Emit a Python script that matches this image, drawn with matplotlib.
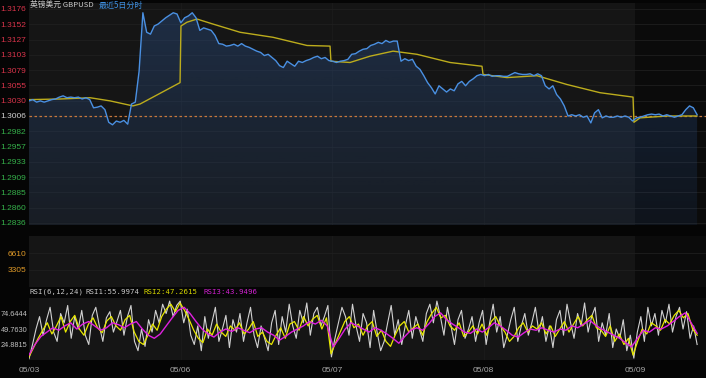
import numpy as np
import matplotlib
matplotlib.use('Agg')
from matplotlib import pyplot as plt
from matplotlib.patches import Polygon

# ---- data ----
day_labels = ['05/03', '05/06', '05/07', '05/08', '05/09']
t_end = 4.41  # last tick, in days from 05/03 open

price = [
    1.3030, 1.3032, 1.3028, 1.3030, 1.3028, 1.3030, 1.3032, 1.3033, 1.3036, 1.3038,
    1.3035, 1.3036, 1.3035, 1.3036, 1.3033, 1.3035, 1.3032,
    1.3019, 1.3020, 1.3022, 1.3016, 1.2996, 1.2992, 1.2998, 1.2996, 1.2999, 1.2993,
    1.3025, 1.3028, 1.3077, 1.3170,
    1.3139, 1.3136, 1.3149, 1.3152, 1.3157, 1.3162, 1.3166, 1.3170, 1.3168, 1.3154,
    1.3162, 1.3165, 1.3170, 1.3162, 1.3142, 1.3146, 1.3144, 1.3142, 1.3134, 1.3121,
    1.3120, 1.3117, 1.3118, 1.3120, 1.3117, 1.3121, 1.3117, 1.3115, 1.3112, 1.3109,
    1.3107, 1.3102, 1.3104, 1.3099, 1.3094, 1.3086, 1.3083, 1.3093, 1.3089, 1.3085,
    1.3093, 1.3091, 1.3094, 1.3096, 1.3099, 1.3101, 1.3097, 1.3099, 1.3094, 1.3093,
    1.3091, 1.3093, 1.3094, 1.3096, 1.3104, 1.3105, 1.3109, 1.3112, 1.3113, 1.3118,
    1.3120, 1.3123, 1.3121, 1.3126, 1.3123, 1.3125, 1.3125, 1.3093, 1.3097, 1.3094,
    1.3096, 1.3085, 1.3080, 1.3070, 1.3059, 1.3051, 1.3041, 1.3054, 1.3049, 1.3044,
    1.3049, 1.3046, 1.3057, 1.3061, 1.3054, 1.3061, 1.3065, 1.3070, 1.3072, 1.3070,
    1.3072, 1.3069, 1.3070, 1.3070, 1.3069, 1.3069, 1.3072, 1.3075, 1.3073, 1.3072,
    1.3072, 1.3073, 1.3070, 1.3073, 1.3070, 1.3054, 1.3049, 1.3054, 1.3040, 1.3033,
    1.3022, 1.3006, 1.3008, 1.3006, 1.3008, 1.3004, 1.3006, 1.2995, 1.3011, 1.3016,
    1.3003, 1.3006, 1.3004, 1.3004, 1.3006, 1.3004, 1.3006, 1.3004, 1.2998, 1.3003,
    1.3004, 1.3006, 1.3008, 1.3009, 1.3008, 1.3009, 1.3006, 1.3008, 1.3006, 1.3004,
    1.3006, 1.3008, 1.3016, 1.3022, 1.3019, 1.3008,
]

avg_t = [0.0, 0.205, 0.403, 0.535, 0.686, 0.733, 0.997, 1.003, 1.043, 1.109, 1.215,
         1.393, 1.611, 1.835, 1.987, 1.993, 2.119, 2.251, 2.403, 2.561, 2.779, 2.990,
         2.997, 3.155, 3.353, 3.551, 3.769, 3.987, 3.993, 4.033, 4.211, 4.409]
avg_p = [1.3032, 1.3033, 1.3035, 1.3030, 1.3022, 1.3025, 1.3059, 1.3149, 1.3155, 1.3160,
         1.3152, 1.3139, 1.3131, 1.3118, 1.3117, 1.3093, 1.3091, 1.3101, 1.3109, 1.3104,
         1.3091, 1.3085, 1.3072, 1.3067, 1.3070, 1.3056, 1.3043, 1.3036, 1.2996, 1.3003,
         1.3006, 1.3006]

prev_close = 1.3006
price_ticks = ['1.3176', '1.3152', '1.3127', '1.3103', '1.3079', '1.3055', '1.3030', '1.3006',
               '1.2982', '1.2957', '1.2933', '1.2909', '1.2885', '1.2860', '1.2836']
vol_ticks = [3305, 6610]
rsi_ticks = ['24.8815', '49.7630', '74.6444']
rsi_header = ['RSI(6,12,24)', 'RSI1:55.9974', 'RSI2:47.2615', 'RSI3:43.9496']

rsi1 = [2, 25, 50, 70, 40, 65, 85, 45, 30, 75, 60, 88, 35, 70, 50, 80, 40, 25, 72, 85, 55, 30, 68, 78, 45, 62,
        80, 40, 70, 88, 30, 15, 50, 22, 65, 45, 80, 60, 90, 75, 95, 70, 88,
        95, 60, 82, 40, 25, 55, 15, 70, 35, 60, 85, 30, 50, 72, 20, 65, 45,
        75, 30, 60, 85, 40, 20, 55, 35, 15, 60, 80, 25, 70, 45, 90, 55, 35, 80, 60, 92, 40, 75, 85, 55, 70, 88,
        5, 35, 60, 85, 70, 40, 90, 55, 30, 75, 60, 20, 80, 45, 15, 30, 60, 88, 40, 65, 25, 55, 80, 35, 70, 50,
        30, 75, 90, 60, 95, 70, 40, 85, 55, 25, 65, 80, 35, 50, 70, 30, 60,
        80, 25, 60, 90, 45, 70, 20, 40, 65, 85, 30, 55, 75, 40, 60, 85, 45,
        70, 30, 55, 20, 65, 80, 40, 90, 60, 35, 75, 55, 92, 45, 70, 85, 30, 60, 40, 75, 20, 50, 35, 65, 15, 40,
        3, 45, 70, 30, 85, 55, 75, 40, 80, 60, 90, 45, 70, 85, 50, 78, 35, 55, 25]
rsi2 = [5, 20, 35, 48, 60, 42, 55, 70, 45, 62, 72, 50, 40, 58, 68, 52, 44, 63, 70, 55,
        48, 65, 72, 45, 30, 25, 40, 58, 48, 70, 82, 90, 78,
        92, 80, 65, 48, 35, 28, 50, 40, 58, 45, 38, 55, 48,
        60, 42, 50, 62, 38, 45, 30, 25, 40, 52, 35, 58, 62, 48, 70, 55, 66, 72, 50, 68,
        10, 28, 45, 62, 70, 52, 58, 40, 55, 62, 38, 48, 30, 22, 40, 55, 62, 45, 52, 58,
        40, 62, 75, 85, 68, 72, 55, 48, 60, 38, 45, 55, 42,
        58, 40, 62, 70, 55, 45, 30, 38, 52, 60, 45, 55, 50,
        60, 42, 55, 38, 50, 62, 45, 58, 70, 55, 65, 72, 52, 48, 38, 55, 30, 42, 25, 35,
        8, 30, 50, 42, 60, 55, 48, 65, 58, 72, 80, 68, 75, 50, 40]
rsi3 = [8, 25, 38, 45, 52, 48, 55, 60, 50, 58, 62, 55, 48, 52, 60, 57,
        52, 58, 62, 50, 40, 35, 42, 55, 68, 80,
        85, 75, 62, 50, 42, 37, 45, 50, 46, 52,
        48, 44, 50, 52, 45, 40, 32, 38, 45, 50, 55, 62, 58, 64, 55,
        21, 35, 50, 60, 55, 50, 45, 52, 48, 42, 35, 27, 38, 48, 52,
        48, 58, 70, 76, 65, 58, 52, 45, 43, 50,
        45, 52, 60, 55, 48, 40, 37, 44, 50, 48,
        52, 48, 45, 50, 48, 55, 52, 58, 64, 56, 50, 45, 40, 35, 28,
        21, 35, 48, 45, 52, 50, 55, 62, 70, 76, 60, 43]

# ---- layout helpers ----
W, H = 706, 378
x_max = (706 - 29) / 151.5


def box(x0, y0, x1, y1):
    return [x0 / W, 1 - y1 / H, (x1 - x0) / W, (y1 - y0) / H]


num_font = 'Liberation Sans'
cjk_font = ['Noto Sans CJK SC', 'DejaVu Sans']

fig = plt.figure(figsize=(7.06, 3.78), dpi=100, facecolor='#050505')
ax = fig.add_axes(box(29, 3, 706, 225))
axv = fig.add_axes(box(29, 236, 706, 287))
axr = fig.add_axes(box(29, 298, 706, 360))

for a in (ax, axv, axr):
    a.set_facecolor('#0b0b0b')
    a.axvspan(0, 4, color='#151515', lw=0, zorder=0)
    for s in a.spines.values():
        s.set_visible(False)
    a.tick_params(length=0, pad=2)
    a.set_xlim(0, x_max)
    for d in range(1, 4):
        a.axvline(d, color='#1c1c1c', lw=0.6, zorder=0.5)

# ---- price panel ----
t = np.linspace(0, t_end, len(price))
ylo, yhi = 1.28328, 1.31855
tick_vals = [float(s) for s in price_ticks]
for v in tick_vals:
    ax.axhline(v, color='#1f1f1f', lw=0.6, zorder=0.5)

verts = np.column_stack([np.r_[t[0], t, t[-1]], np.r_[ylo, price, ylo]])
poly = Polygon(verts, closed=True, facecolor='none', edgecolor='none')
ax.add_patch(poly)
grad = np.zeros((100, 1, 4))
grad[..., 0] = 0.2
grad[..., 1] = 0.4
grad[..., 2] = 0.7
grad[:, 0, 3] = np.linspace(0.3, 0.1, 100)
im = ax.imshow(grad, aspect='auto', extent=[0, t_end, ylo, max(price)], origin='upper', zorder=1)
im.set_clip_path(poly)

ax.axhline(prev_close, color='#c8783c', lw=0.9, ls=(0, (2, 2)), zorder=2)
ax.plot(avg_t, avg_p, color='#bcac1c', lw=1.0, zorder=3)
ax.plot(t, price, color='#4a90e2', lw=1.0, zorder=4)
ax.set_ylim(ylo, yhi)
ax.set_xlim(0, x_max)
ax.set_xticks([])
ax.set_yticks(tick_vals)
ax.set_yticklabels(price_ticks, fontsize=6, family=num_font)
for lab, v in zip(ax.get_yticklabels(), tick_vals):
    if v > prev_close + 1e-6:
        lab.set_color('#d8344a')
    elif v < prev_close - 1e-6:
        lab.set_color('#35b04a')
    else:
        lab.set_color('#d0d0d0')

fig.text(30 / W, 1 - 5 / H, '英镑美元 GBPUSD', color='#c8c8c8', fontsize=5.6,
         family=cjk_font, va='center', ha='left')
fig.text(99 / W, 1 - 5 / H, '最近5日分时', color='#3d8fe0', fontsize=5.8,
         family=cjk_font, va='center', ha='left')

# ---- volume panel (empty) ----
axv.set_ylim(0, 9915)
for v in vol_ticks:
    axv.axhline(v, color='#1f1f1f', lw=0.6, zorder=0.5)
axv.set_xticks([])
axv.set_yticks(vol_ticks)
axv.set_yticklabels([str(v) for v in vol_ticks], fontsize=6, family=num_font, color='#e09a28')

# ---- RSI panel ----
axr.plot(np.linspace(0, t_end, len(rsi1)), rsi1, color='#e6e6e6', lw=0.8, alpha=0.9, zorder=2)
axr.plot(np.linspace(0, t_end, len(rsi2)), rsi2, color='#e8e800', lw=0.9, zorder=3)
axr.plot(np.linspace(0, t_end, len(rsi3)), rsi3, color='#e020e0', lw=1.0, zorder=4)
axr.set_ylim(0, 100)
axr.set_yticks([float(s) for s in rsi_ticks])
axr.set_yticklabels(rsi_ticks, fontsize=5.3, family=num_font, color='#c0c0c0')
axr.tick_params(axis='y', pad=1)
axr.set_xticks(range(len(day_labels)))
axr.set_xticklabels(day_labels, fontsize=6, family=num_font, color='#a8a8a8')
axr.tick_params(axis='x', pad=5)

# RSI header, one piece per colour
for txt, px, col in zip(rsi_header, [30, 86, 144, 203], ['#c8c8c8', '#c8c8c8', '#d8d800', '#d020d0']):
    fig.text(px / W, 1 - 292 / H, txt, color=col, fontsize=5.3,
             family='DejaVu Sans Mono', va='center', ha='left')

plt.savefig('out.png', dpi=100, facecolor=fig.get_facecolor())
